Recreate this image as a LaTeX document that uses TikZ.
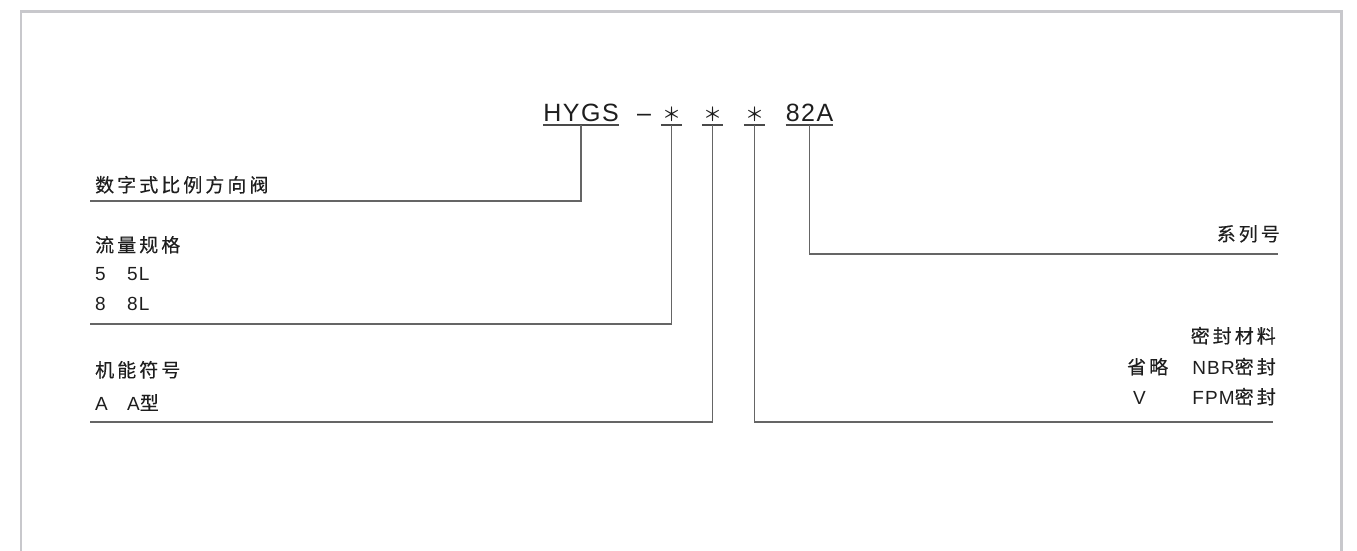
\documentclass[tikz,border=0pt]{standalone}
\usepackage{fontspec}
\setmainfont{Liberation Sans}
\newfontfamily\codefont[LetterSpace=6]{Liberation Sans}
\newfontfamily\latin[LetterSpace=6]{Liberation Sans}
\newfontfamily\cjk[LetterSpace=16,FakeBold=0.3]{Noto Sans CJK SC}
\newfontfamily\cjkstar{Noto Sans CJK SC}
\usetikzlibrary{positioning,calc}
\definecolor{txtgray}{HTML}{1E1E1E}
\definecolor{rulegray}{HTML}{4A4A4A}
\definecolor{framegray}{HTML}{C8C8CC}
\tikzset{code/.style={anchor=base,inner sep=0pt,text=txtgray,font=\fontsize{25}{30}\selectfont},
    lbl/.style={inner sep=0pt,text=txtgray,font=\fontsize{19}{22}\selectfont\latin},
    cjklbl/.style={lbl,font=\fontsize{19}{22}\selectfont\cjk},
    uline/.style={draw=rulegray,line width=1.3pt},
    conn/.style={draw=rulegray!85,line width=1.3pt},
    frame/.style={draw=framegray,line width=2.5pt}}

\begin{document}
\begin{tikzpicture}[x=1pt,y=-1pt]
    \useasboundingbox (0,0) rectangle (1357,551);
    \draw[frame] (21,551) -- (21,11.5) -- (1341.5,11.5) -- (1341.5,551);

    % model code
    \node[code] (hygs) at (581,121) {\codefont HYGS};
    \node[code] (dash) at (644,121) {\codefont –};
    \node[code] (s1) at (671.5,121) {\makebox[21pt]{\fontsize{19}{22}\cjkstar ＊}};
    \node[code] (s2) at (712.5,121) {\makebox[21pt]{\fontsize{19}{22}\cjkstar ＊}};
    \node[code] (s3) at (754.5,121) {\makebox[21pt]{\fontsize{19}{22}\cjkstar ＊}};
    \node[code] (ser) at (809.5,121) {\codefont 82A};
    \foreach \n in {hygs,s1,s2,s3,ser}
        \draw[uline] ([yshift=-4pt]\n.base west) -- ([yshift=-4pt]\n.base east);

    % left labels
    \node[cjklbl,anchor=base west] (valve) at (95,192) {数字式比例方向阀};
    \node[cjklbl,anchor=base west] (flow) at (95,252) {流量规格};
    \node[lbl,anchor=base west] (f5) at (95,280) {\makebox[32pt][l]{5}5L};
    \node[lbl,anchor=base west] (f8) at (95,310) {\makebox[32pt][l]{8}8L};
    \node[cjklbl,anchor=base west] (func) at (95,377) {机能符号};
    \node[lbl,anchor=base west] (fa) at (95,410) {\makebox[32pt][l]{A}A{\cjk 型}};

    % right labels
    \node[cjklbl,anchor=base east] (series) at (1280,241) {系列号};
    \node[cjklbl,anchor=base east] (seal) at (1276,343) {密封材料};
    \node[cjklbl,anchor=base west] (omit) at (1127,374) {省略};
    \node[lbl,anchor=base east] (nbr) at (1276,374) {NBR{\cjk 密封}};
    \node[lbl,anchor=base west] (viton) at (1133,404) {V};
    \node[lbl,anchor=base east] (fpm) at (1276,404) {FPM{\cjk 密封}};

    \coordinate (e1) at (90,201);
    \coordinate (e2) at (90,324);
    \coordinate (e3) at (90,422);
    \coordinate (e4) at (1273,422);
    \coordinate (e5) at (1278,254);

    \draw[conn] ([yshift=-4pt]hygs.base) |- (e1);
    \draw[conn] ([yshift=-4pt]s1.base) |- (e2);
    \draw[conn] ([yshift=-4pt]s2.base) |- (e3);
    \draw[conn] ([yshift=-4pt]s3.base) |- (e4);
    \draw[conn] ([yshift=-4pt]ser.base) |- (e5);
\end{tikzpicture}
\end{document}
